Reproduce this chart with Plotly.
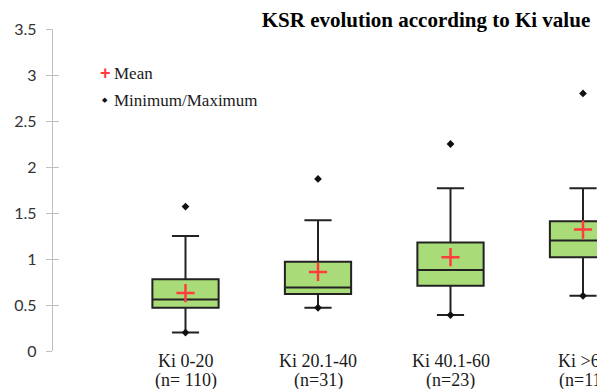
import html
import plotly.graph_objects as go

# KSR distribution per Ki class
categories = ["Ki 0-20", "Ki 20.1-40", "Ki 40.1-60", "Ki >60"]
counts = ["(n= 110)", "(n=31)", "(n=23)", "(n=11)"]
minimum = [0.20, 0.47, 0.39, 0.60]
q1 = [0.47, 0.62, 0.71, 1.02]
median = [0.56, 0.69, 0.88, 1.20]
q3 = [0.78, 0.97, 1.18, 1.41]
whisker_low = [0.20, 0.47, 0.39, 0.60]
whisker_high = [1.25, 1.42, 1.77, 1.77]
maximum = [1.57, 1.87, 2.25, 2.80]
mean = [0.63, 0.86, 1.02, 1.32]
y_ticks = [0, 0.5, 1, 1.5, 2, 2.5, 3, 3.5]

W, H = 597, 389
ML, MR, MT, MB = 53, 0, 29, 38
PW, PH = W - ML - MR, H - MT - MB

pos = list(range(len(categories)))

SERIF = "Liberation Serif"
BOX_FILL = "#a9dc78"
EDGE = "#222222"
RED = "#ff3b3b"
AXIS_GREY = "#bfbfbf"


def paper_x(px):
    return (px - ML) / PW


def paper_y(py):
    return (H - MB - py) / PH


fig = go.Figure()

fig.add_trace(go.Box(
    x=pos, q1=q1, median=median, q3=q3,
    lowerfence=whisker_low, upperfence=whisker_high,
    fillcolor=BOX_FILL, line=dict(color=EDGE, width=2),
    width=0.5, whiskerwidth=0.41, boxpoints=False,
    hoverinfo="skip", showlegend=False,
))

# minimum / maximum points
fig.add_trace(go.Scatter(
    x=pos + pos, y=minimum + maximum, mode="markers",
    marker=dict(symbol="diamond", size=6, color="#111111"),
    cliponaxis=False, showlegend=False, hoverinfo="skip",
))

# mean markers
fig.add_trace(go.Scatter(
    x=pos, y=mean, mode="markers",
    marker=dict(symbol="cross-thin", size=13, line=dict(color=RED, width=2.5)),
    cliponaxis=False, showlegend=False, hoverinfo="skip",
))

# helper trace so the inner tick axis is drawn
fig.add_trace(go.Scatter(x=[None], y=[None], yaxis="y2", showlegend=False,
                         hoverinfo="skip"))

fig.update_layout(
    width=W, height=H,
    margin=dict(l=ML, r=MR, t=MT, b=MB),
    paper_bgcolor="white", plot_bgcolor="white",
    title=dict(
        text="<b>KSR evolution according to Ki value</b>",
        x=426 / W, xanchor="center", xref="container",
        y=1 - 20 / H, yanchor="middle", yref="container",
        font=dict(family=SERIF, size=21, color="#000000"),
    ),
    xaxis=dict(
        range=[-1, -1 + PW / 132.5], showgrid=False, zeroline=False,
        showline=False, showticklabels=False, ticks="",
    ),
    yaxis=dict(
        range=[0, 3.5], tickvals=y_ticks, showgrid=False, zeroline=False,
        showline=True, linecolor=AXIS_GREY, linewidth=1.3,
        ticks="outside", ticklen=6, tickwidth=1.3, tickcolor=AXIS_GREY,
        ticklabelstandoff=6,
        tickfont=dict(family="Lato", size=16, color="#333333"),
    ),
    yaxis2=dict(
        range=[0, 3.5], tickvals=y_ticks, overlaying="y", side="left",
        anchor="x", showgrid=False, zeroline=False, showline=False,
        ticks="inside", ticklen=6, tickwidth=1.3, tickcolor=AXIS_GREY,
        showticklabels=False,
    ),
    showlegend=False,
)

# category labels below each box
for i, (cat, n) in enumerate(zip(categories, counts)):
    fig.add_annotation(x=i, xref="x", y=0, yref="paper", yanchor="middle",
                       yshift=-9.5, text=html.escape(cat), showarrow=False,
                       font=dict(family=SERIF, size=18, color="#1a1a1a"))
    fig.add_annotation(x=i, xref="x", y=0, yref="paper", yanchor="middle",
                       yshift=-29, text=html.escape(n), showarrow=False,
                       font=dict(family=SERIF, size=18, color="#1a1a1a"))

# key for the markers
fig.add_annotation(x=paper_x(105), y=paper_y(73), xref="paper", yref="paper",
                   xanchor="center", yanchor="middle", text="<b>+</b>",
                   showarrow=False,
                   font=dict(family="Liberation Sans", size=18, color=RED))
fig.add_annotation(x=paper_x(112), y=paper_y(73), xref="paper", yref="paper",
                   xanchor="left", yanchor="middle", text="Mean", showarrow=False,
                   font=dict(family=SERIF, size=17, color="#1a1a1a"))
fig.add_annotation(x=paper_x(105), y=paper_y(100), xref="paper", yref="paper",
                   xanchor="center", yanchor="middle", text="\u25c6",
                   showarrow=False,
                   font=dict(family="DejaVu Sans", size=7, color="#111111"))
fig.add_annotation(x=paper_x(112), y=paper_y(100), xref="paper", yref="paper",
                   xanchor="left", yanchor="middle", text="Minimum/Maximum",
                   showarrow=False,
                   font=dict(family=SERIF, size=17, color="#1a1a1a"))

fig.write_html("out.html")
